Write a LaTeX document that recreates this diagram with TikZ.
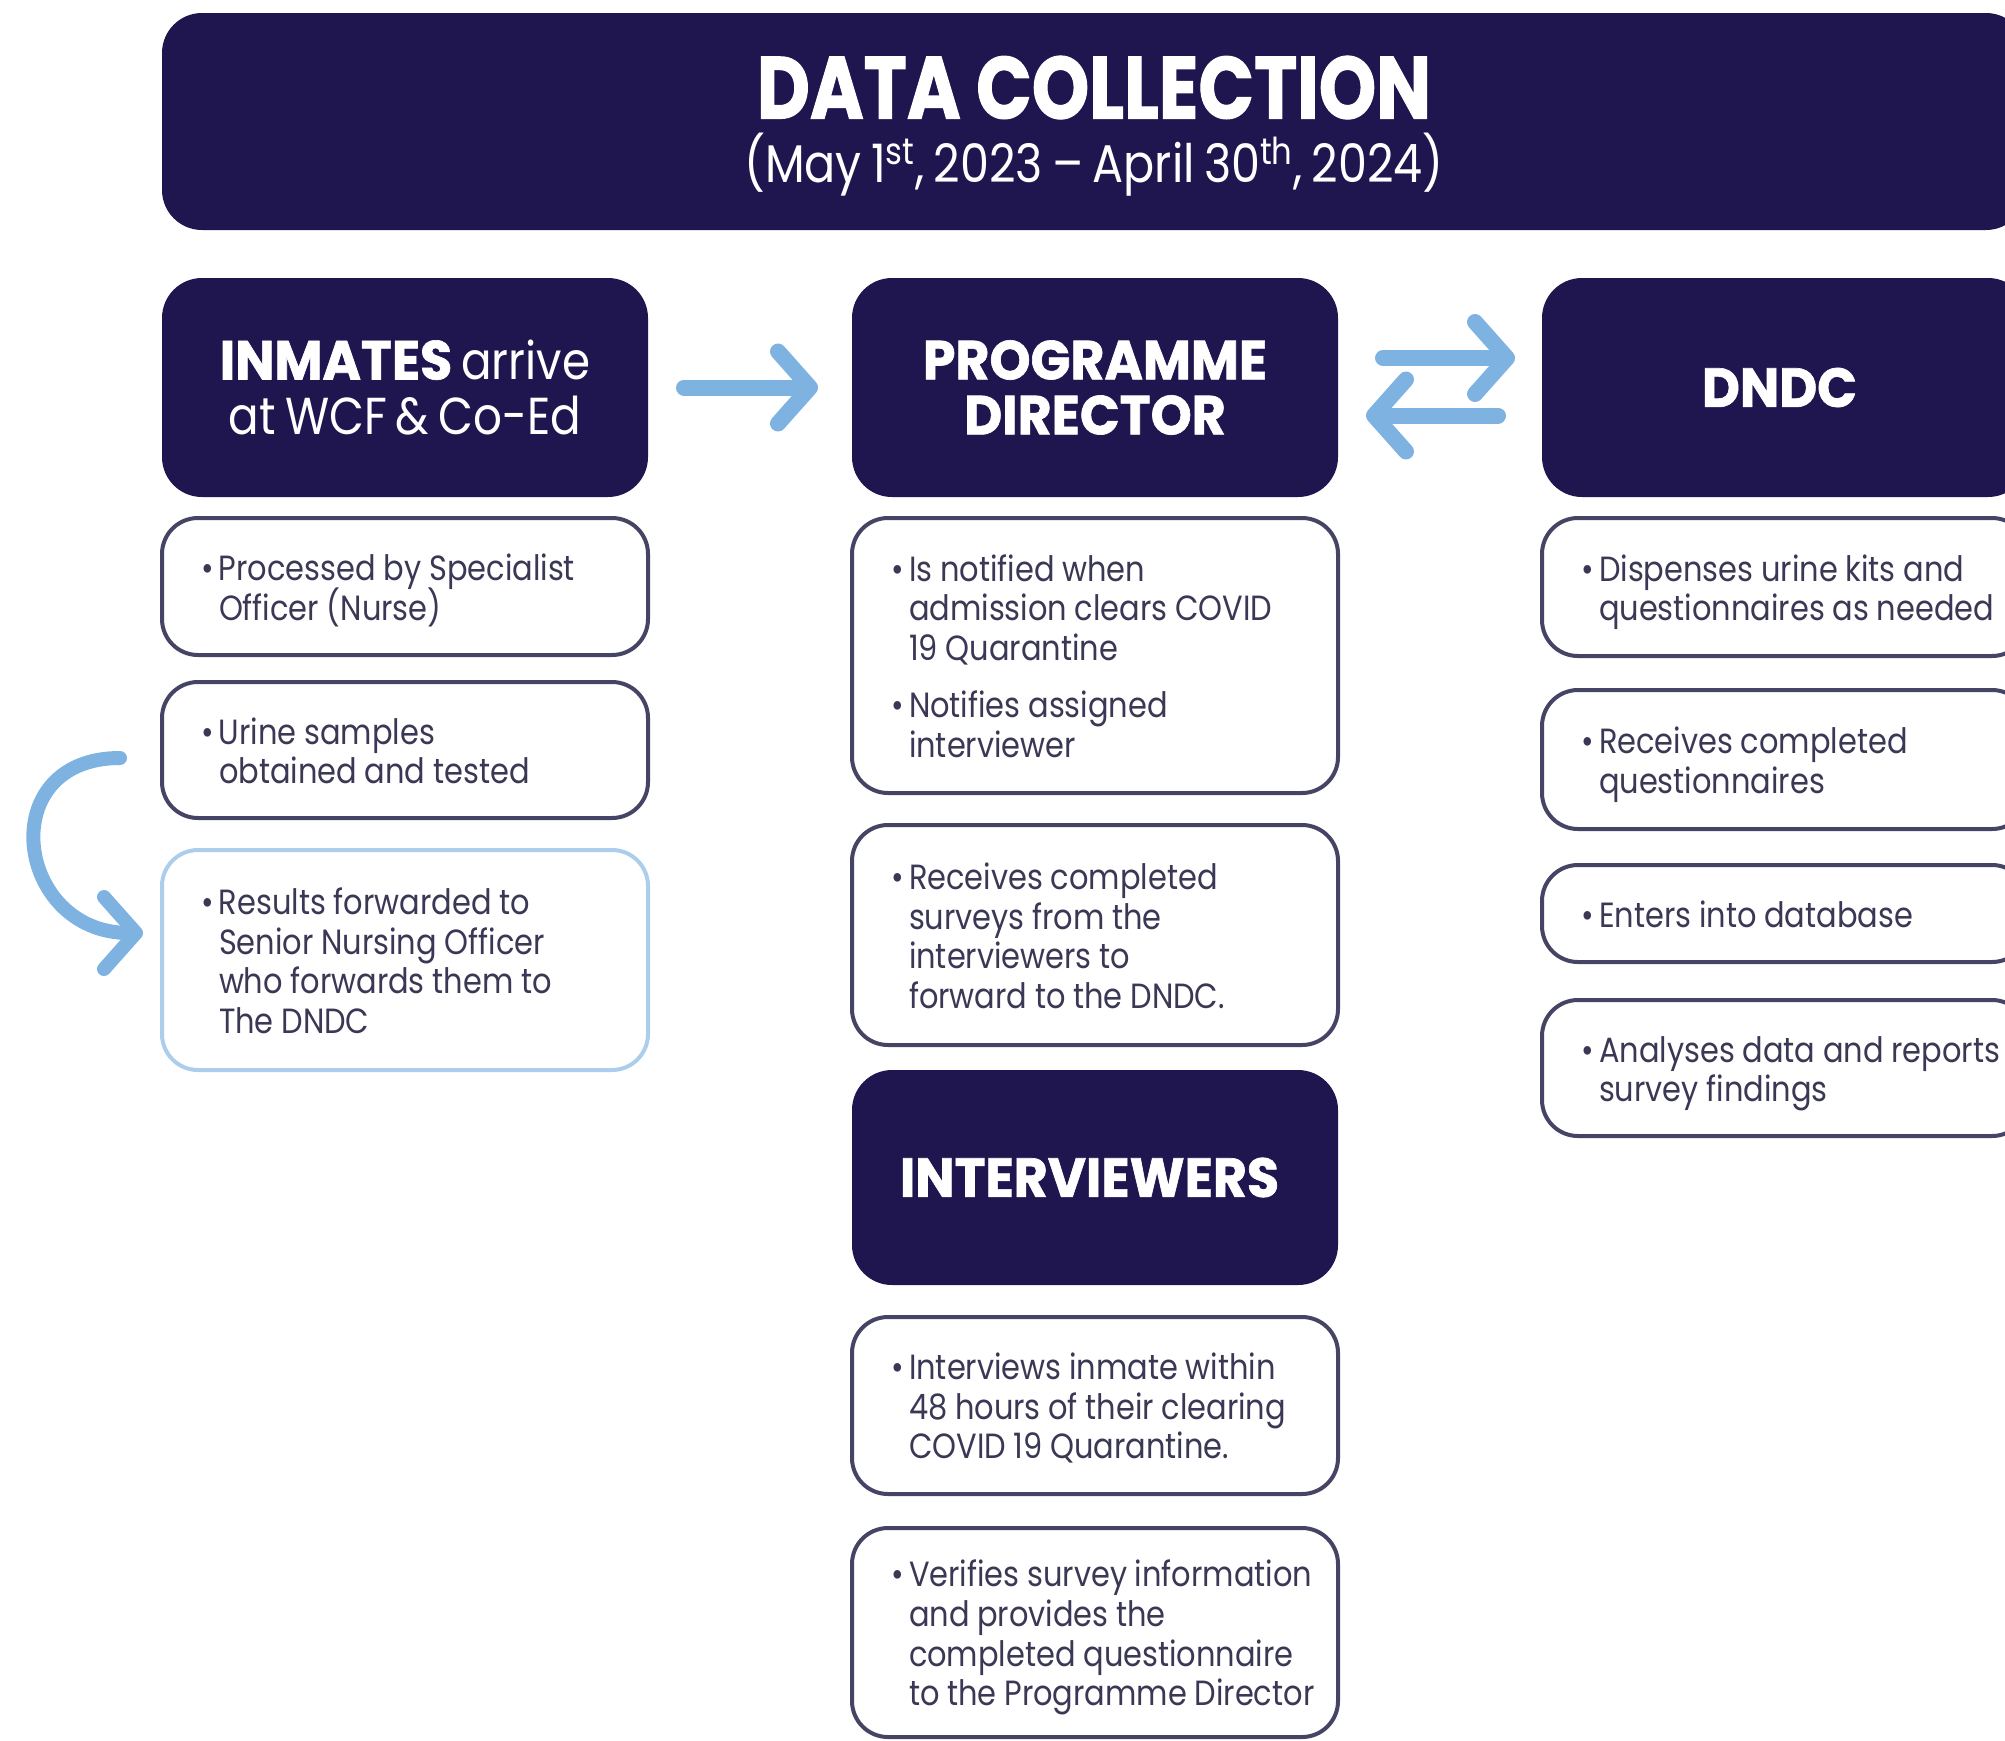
\documentclass[tikz,border=0pt]{standalone}
\usepackage{fontspec}
\setmainfont{Poppins}[FakeStretch=0.87, WordSpace=0.75]
\newfontfamily\headfont{Poppins}[FakeStretch=0.95, BoldFeatures={FakeBold=1.2}]
\newfontfamily\titlefont{Poppins}[FakeStretch=0.83, BoldFeatures={FakeBold=1.2}]
\usetikzlibrary{positioning,arrows.meta}
\definecolor{navy}{RGB}{31,22,80}
\definecolor{boxline}{RGB}{70,68,100}
\definecolor{bodytext}{RGB}{58,56,84}
\definecolor{lightline}{RGB}{172,206,236}
\definecolor{flowblue}{RGB}{125,178,225}
\newcommand{\bul}[1]{\par\lineskiplimit=-100pt\spaceskip=0.22em plus 0.1em\leftskip=27pt\noindent\llap{\textbullet\hspace{2.5pt}}#1\rule[-6pt]{0pt}{0pt}\par}
\tikzset{
        titlenode/.style={rectangle, rounded corners=20pt, fill=navy, text=white, align=center, minimum width=932pt, minimum height=108.5pt, inner sep=0pt},
        headnode/.style={rectangle, rounded corners=20pt, fill=navy, text=white, align=center, minimum width=243pt, minimum height=109.5pt, inner sep=0pt, outer sep=0pt, font=\headfont\fontsize{27.5pt}{27.5pt}\selectfont\bfseries},
        itemnode/.style={rectangle, rounded corners=18pt, draw=boxline, line width=2pt, fill=white, text=bodytext, align=left, text width=240pt, minimum width=243pt, inner sep=0pt, outer sep=0pt, font=\fontsize{17.5pt}{19.8pt}\selectfont},
        flow/.style={draw=flowblue, line width=8pt, line cap=round, -{Straight Barb[length=16pt,width=36pt,round]}}
}
\begin{document}
\begin{tikzpicture}
            \useasboundingbox (0,0) rectangle (1002.5pt,-870pt);
            \clip (0,0) rectangle (1002.5pt,-870pt);
            \node[titlenode] (title) at (547pt,-60.75pt) {
                {\titlefont\fontsize{44pt}{48pt}\selectfont\bfseries\rule{0pt}{36pt}DATA COLLECTION}\\[6pt]
                {\fontsize{26.5pt}{30pt}\selectfont (May 1\textsuperscript{st}, 2023 – April 30\textsuperscript{th}, 2024)}
            };
            % header row
            \node[headnode, font=\fontsize{26pt}{27.5pt}\selectfont] (inmates) at (202.5pt,-193.75pt) {
                {\headfont\fontsize{27.5pt}{27.5pt}\selectfont\bfseries INMATES} arrive\\at WCF \& Co-Ed
            };
            \node[headnode, right=102pt of inmates] (director) {
                PROGRAMME\\DIRECTOR
            };
            \node[headnode, right=102pt of director] (dndc) {
                DNDC
            };
            % inmates column
            \node[itemnode, minimum height=68.5pt, below=10.5pt of inmates] (processed) {
                \bul{Processed by Specialist\\Officer (Nurse)}
            };
            \node[itemnode, minimum height=68pt, below=13.5pt of processed] (urine) {
                \bul{Urine samples\\obtained and tested}
            };
            \node[itemnode, minimum height=110pt, below=16pt of urine, draw=lightline] (results) {
                \bul{Results forwarded to\\Senior Nursing Officer\\who forwards them to\\The DNDC}
            };
            % director column
            \node[itemnode, minimum height=137.5pt, below=10.5pt of director] (notified) {
                \bul{Is notified when\\admission clears COVID\\19 Quarantine}
                \vskip 9pt
                \bul{Notifies assigned\\interviewer}
            };
            \node[itemnode, minimum height=110pt, below=16pt of notified] (surveys) {
                \bul{Receives completed\\surveys from the\\interviewers to\\forward to the DNDC.}
            };
            \node[headnode, minimum height=107.5pt, below=12.5pt of surveys] (interviewers) {
                INTERVIEWERS
            };
            \node[itemnode, minimum height=88.5pt, below=16pt of interviewers] (interviews) {
                \bul{Interviews inmate within\\48 hours of their clearing\\COVID 19 Quarantine.}
            };
            \node[itemnode, minimum height=104.5pt, below=17pt of interviews] (verifies) {
                \bul{Verifies survey information\\and provides the\\completed questionnaire\\to the Programme Director}
            };
            % dndc column
            \node[itemnode, minimum height=69pt, below=10.5pt of dndc] (dispenses) {
                \bul{Dispenses urine kits and\\questionnaires as needed}
            };
            \node[itemnode, minimum height=69.5pt, below=17pt of dispenses] (questionnaires) {
                \bul{Receives completed\\questionnaires}
            };
            \node[itemnode, minimum height=48.5pt, below=18pt of questionnaires] (database) {
                \bul{Enters into database}
            };
            \node[itemnode, minimum height=68pt, below=19pt of database] (analyses) {
                \bul{Analyses data and reports\\survey findings}
            };
            % arrows
            \draw[flow] ([xshift=18pt]inmates.east) -- ([xshift=-17pt]director.west);
            \draw[flow] ([xshift=22.5pt,yshift=14.75pt]director.east) -- ([xshift=-13.5pt,yshift=14.75pt]dndc.west);
            \draw[flow] ([xshift=-22pt,yshift=-14pt]dndc.west) -- ([xshift=14pt,yshift=-14pt]director.east);
            \draw[flow, line width=7pt] ([xshift=-21pt,yshift=-4pt]urine.west) .. controls +(-64pt,0pt) and +(-64pt,0pt) .. ([xshift=-9.5pt,yshift=13.5pt]results.west);
\end{tikzpicture}
\end{document}
